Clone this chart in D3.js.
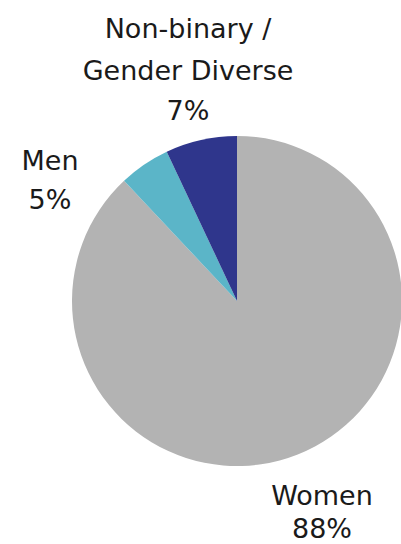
<!DOCTYPE html>
<html><head><meta charset="utf-8">
<script src="https://cdn.jsdelivr.net/npm/d3@7"></script>
<style>html,body{margin:0;padding:0;background:#fff;}</style>
</head><body>
<svg id="chart" width="401" height="544"></svg>
<script>
const categories = ["Women", "Men", "Non-binary / Gender Diverse"];
const values = [88, 5, 7];
const labelLines = [["Women", "88%"], ["Men", "5%"], ["Non-binary /", "Gender Diverse", "7%"]];
const colors = ["#b3b3b3", "#5bb5c8", "#2f368c"];

const svg = d3.select("#chart");
const cx = 237, cy = 301, r = 165;
const g = svg.append("g").attr("transform", `translate(${cx},${cy})`);
const pie = d3.pie().sort(null).value(d => d);
const arcs = pie(values);
const arc = d3.arc().innerRadius(0).outerRadius(r);
g.selectAll("path").data(arcs).enter().append("path")
  .attr("d", arc).attr("fill", (d, i) => colors[i]);

const labelX = [322, 50, 188];
const labelY = [[505, 538], [170, 209], [38, 80, 120]];
labelLines.forEach((lines, i) => {
  const t = svg.append("text")
    .attr("text-anchor", "middle")
    .attr("font-family", "'DejaVu Sans', sans-serif")
    .attr("font-size", 27)
    .attr("fill", "#1a1a1a");
  lines.forEach((s, j) => {
    t.append("tspan").attr("x", labelX[i]).attr("y", labelY[i][j]).text(s);
  });
});
</script>
</body></html>
